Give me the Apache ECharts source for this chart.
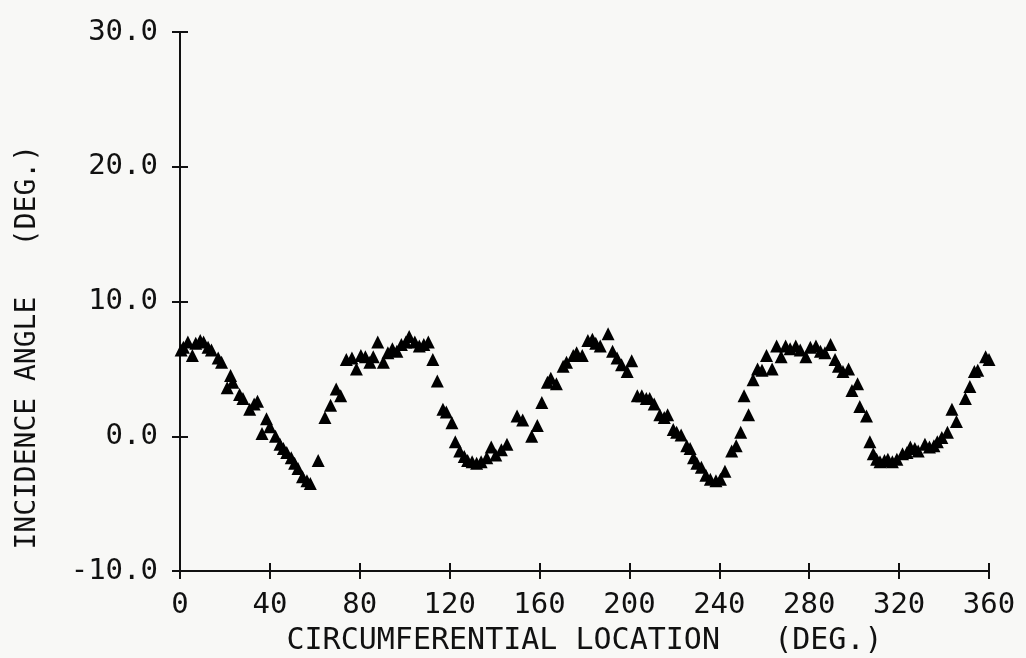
<!DOCTYPE html>
<html>
<head>
<meta charset="utf-8">
<script src="https://cdn.jsdelivr.net/npm/echarts@6/dist/echarts.min.js"></script>
<style>
  html, body { margin: 0; padding: 0; background: #f8f8f6; }
  #chart { width: 1026px; height: 658px; }
</style>
</head>
<body>
<div id="chart"></div>
<script>
// circumferential location (deg) and incidence angle (deg)
const locations = [
  0.5, 1.5, 3.5, 5.5, 7, 9, 10.5, 12.5, 14, 17, 18.5, 21, 22.5, 23.5, 26.5, 28, 31, 33, 34.5, 36.5,
  38.5, 40, 42.5, 44.5, 46, 47.5, 49.5, 51, 52.5, 54.5, 56.5, 58, 61.5, 64.5, 67, 69.5, 71.5,
  74, 76.5, 78.5, 80.5, 82.5, 84.5, 86, 88, 90.5, 92.5, 94.5, 96.5, 98.5, 100.5, 102, 104.5, 106.5,
  108.5, 110.5, 112.5, 114.5, 117, 118.5, 121, 122.5, 124.5, 126.5, 128, 130, 132, 134, 136.5,
  138.5, 140.5, 143, 145.5, 150, 152.5, 156.5, 159, 161, 163.5, 165, 167.5, 170.5, 172, 175, 176.5,
  179, 181.5, 183.5, 185, 187, 190.5, 192.5, 194.5, 196.5, 199, 201, 203.5, 205.5, 207.5, 209, 211,
  213.5, 215.5, 217, 219.5, 221, 223, 225.5, 227, 228.5, 230, 232, 234, 236, 238.5, 240.5, 242.5,
  245.5, 247.5, 249.5, 251, 253, 255, 257, 259, 261, 263.5, 265.5, 267.5, 269.5, 271.5, 274, 276,
  278.5, 280.5, 283, 285, 287, 289.5, 291.5, 293, 295, 297.5, 299, 301.5, 302.5, 305.5, 307, 308.5,
  310, 311.5, 313.5, 315, 317, 319, 321.5, 323.5, 325, 327, 328.5, 331.5, 333.5, 335.5, 337, 339,
  341.5, 343.5, 345.5, 349.5, 351.5, 353.5, 355, 358.5, 360
];
const angles = [
  6.4, 6.6, 7.0, 6.0, 6.9, 7.1, 7.0, 6.6, 6.4, 5.8, 5.5, 3.6, 4.5, 4.0, 3.1, 2.8, 2.0, 2.4, 2.6, 0.2,
  1.3, 0.7, 0.0, -0.6, -0.9, -1.2, -1.6, -2.0, -2.4, -3.0, -3.3, -3.5, -1.8, 1.4, 2.3, 3.5, 3.0,
  5.7, 5.8, 5.0, 6.0, 5.9, 5.5, 5.9, 7.0, 5.5, 6.2, 6.5, 6.3, 6.8, 7.0, 7.4, 7.0, 6.7,
  6.8, 7.0, 5.7, 4.1, 2.0, 1.8, 1.0, -0.4, -1.1, -1.5, -1.8, -1.9, -2.0, -1.9, -1.6,
  -0.8, -1.4, -1.0, -0.6, 1.5, 1.2, 0.0, 0.8, 2.5, 4.0, 4.3, 3.9, 5.2, 5.5, 6.0, 6.2,
  6.0, 7.1, 7.2, 6.9, 6.7, 7.6, 6.3, 5.8, 5.3, 4.8, 5.6, 3.0, 3.0, 2.8, 2.8, 2.4,
  1.6, 1.4, 1.6, 0.5, 0.3, 0.1, -0.7, -0.9, -1.6, -2.0, -2.3, -2.9, -3.2, -3.3, -3.2, -2.6,
  -1.1, -0.7, 0.3, 3.0, 1.6, 4.2, 5.0, 4.9, 6.0, 5.0, 6.7, 5.9, 6.7, 6.5, 6.7, 6.4,
  5.9, 6.6, 6.7, 6.3, 6.2, 6.8, 5.7, 5.2, 4.8, 5.0, 3.4, 3.9, 2.2, 1.5, -0.4, -1.3,
  -1.7, -1.9, -1.8, -1.7, -1.9, -1.7, -1.3, -1.2, -0.8, -0.9, -1.1, -0.6, -0.8, -0.7, -0.4, -0.1,
  0.3, 2.0, 1.1, 2.8, 3.7, 4.8, 4.9, 5.9, 5.7
];
const xTicks = [0, 40, 80, 120, 160, 200, 240, 280, 320, 360];
const yTicks = [-10, 0, 10, 20, 30];

const font = '"DejaVu Sans Mono", monospace';
const ink = '#111';

const points = locations.map((x, i) => [x, angles[i]]);

const chart = echarts.init(document.getElementById('chart'));

const xBase = {
  type: 'value', min: xTicks[0], max: xTicks[xTicks.length - 1], interval: 40,
  position: 'bottom', splitLine: { show: false }, gridIndex: 0
};
const yBase = {
  type: 'value', min: yTicks[0], max: yTicks[yTicks.length - 1], interval: 10,
  position: 'left', splitLine: { show: false }, gridIndex: 0
};

chart.setOption({
  backgroundColor: '#f8f8f6',
  animation: false,
  grid: { left: 180, right: 37, top: 32, bottom: 87, outerBoundsMode: 'none', containLabel: false },
  xAxis: [
    Object.assign({}, xBase, {
      axisLine: { show: true, onZero: false, lineStyle: { color: ink, width: 2 } },
      axisTick: { show: true, length: 8, lineStyle: { color: ink, width: 2 } },
      axisLabel: { color: ink, fontFamily: font, fontSize: 29, margin: 20 },
      name: 'CIRCUMFERENTIAL LOCATION   (DEG.)',
      nameLocation: 'middle', nameGap: 55,
      nameTextStyle: { color: ink, fontFamily: font, fontSize: 30 }
    }),
    Object.assign({}, xBase, {
      axisLine: { show: false, onZero: false },
      axisTick: { show: true, inside: true, length: 8, lineStyle: { color: ink, width: 2 } },
      axisLabel: { show: false }
    })
  ],
  yAxis: [
    Object.assign({}, yBase, {
      axisLine: { show: true, onZero: false, lineStyle: { color: ink, width: 2 } },
      axisTick: { show: true, length: 8, lineStyle: { color: ink, width: 2 } },
      axisLabel: { color: ink, fontFamily: font, fontSize: 29, margin: 22,
        formatter: v => v.toFixed(1) }
    }),
    Object.assign({}, yBase, {
      axisLine: { show: false, onZero: false },
      axisTick: { show: true, inside: true, length: 8, lineStyle: { color: ink, width: 2 } },
      axisLabel: { show: false }
    })
  ],
  graphic: [{
    type: 'text',
    left: 14, top: 145,
    rotation: Math.PI / 2,
    style: {
      text: 'INCIDENCE ANGLE   (DEG.)',
      fill: ink, font: '28px "DejaVu Sans Mono", monospace'
    }
  }],
  series: [{
    type: 'scatter',
    xAxisIndex: 0, yAxisIndex: 0,
    symbol: 'triangle', symbolSize: 13,
    itemStyle: { color: '#000', opacity: 1 },
    data: points
  }]
});
</script>
</body>
</html>
